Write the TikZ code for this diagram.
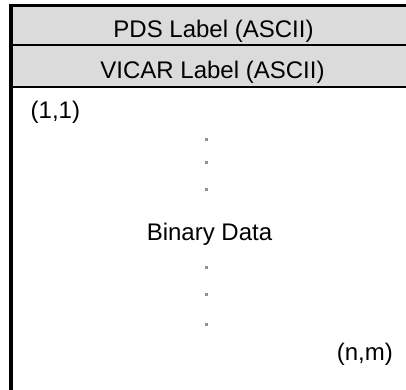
\documentclass[tikz,border=0pt]{standalone}
\usepackage{fontspec}
\setmainfont{Liberation Sans}
\begin{document}
\begin{tikzpicture}[x=1pt,y=1pt,
  lbl/.style={font=\fontsize{24}{28}\selectfont, inner sep=0pt, text=black},
  dotmark/.style={fill=gray!85, minimum size=3pt, inner sep=0pt, draw=none},
  band/.style={fill=black!14, draw=none}]
\path[use as bounding box, clip] (0,0) rectangle (406,389);
\fill[white] (0,0) rectangle (406,389);
% header bands
\path[band] (11,302) rectangle (420,383.5);
% dividers
\draw[line width=2pt] (11,344) -- (420,344);
\draw[line width=2pt] (11,302) -- (420,302);
% outer frame (extends beyond picture at right and bottom)
\draw[line width=3pt] (420,383.5) -- (11,383.5);
\draw[line width=4pt] (11,385) -- (11,-10);
% texts
\node[lbl, anchor=base] (pds) at (213.5,351) {PDS Label (ASCII)};
\node[lbl, anchor=base] (vicar) at (212.5,311) {VICAR Label (ASCII)};
\node[lbl, anchor=base west] (start) at (30.5,271) {(1,1)};
\node[lbl, anchor=base] (bin) at (209.5,149) {Binary Data};
\node[lbl, anchor=base east] (end) at (393,29) {(n,m)};
% dots
\node[dotmark] (d1) at (206.5,250) {};
\node[dotmark] (d2) at (206.5,227) {};
\node[dotmark] (d3) at (206.5,200) {};
\node[dotmark] (d4) at (206.5,122) {};
\node[dotmark] (d5) at (206.5,95) {};
\node[dotmark] (d6) at (206.5,65) {};
\end{tikzpicture}
\end{document}
